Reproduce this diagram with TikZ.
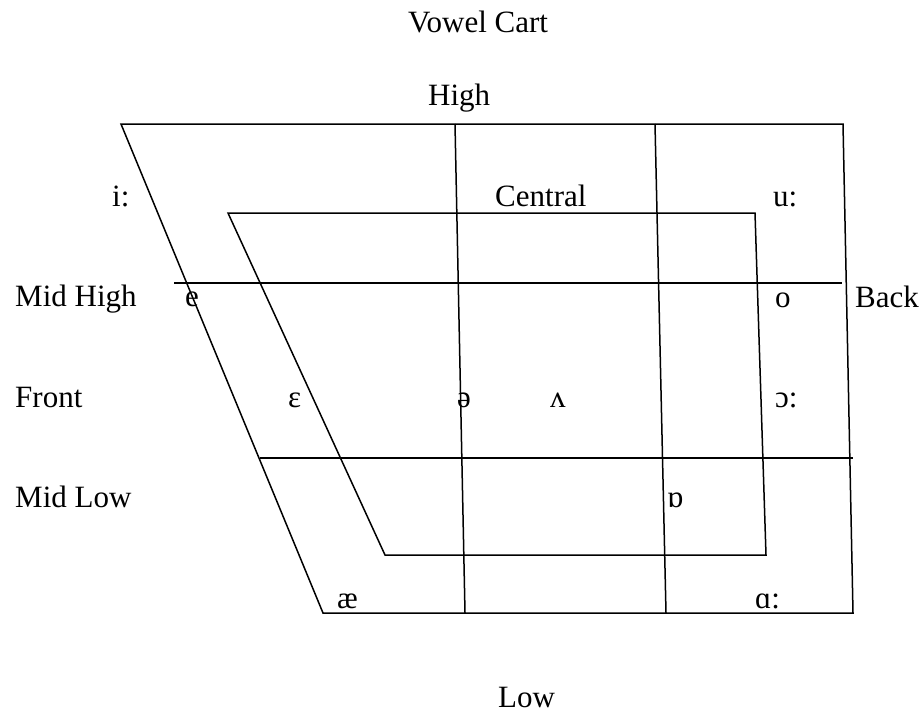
\documentclass[tikz,border=0pt]{standalone}
\usepackage{fontspec}
\setmainfont{Liberation Serif}
\begin{document}
\begin{tikzpicture}[x=1pt,y=-1pt,
  lbl/.style={anchor=base west,inner sep=0pt,font=\fontsize{31}{37}\selectfont},
  edge/.style={line width=1.5pt,line join=miter}]
\useasboundingbox (0,0) rectangle (923,712);
% outer chart
\coordinate (o1) at (121,124);
\coordinate (o2) at (843,124);
\coordinate (o3) at (853,613);
\coordinate (o4) at (323,613);
% inner chart
\coordinate (i1) at (228,213);
\coordinate (i2) at (755,213);
\coordinate (i3) at (766,555);
\coordinate (i4) at (385,555);
% horizontal lines
\coordinate (mh1) at (174,283);
\coordinate (mh2) at (842,283);
\coordinate (ml1) at (260,458);
\coordinate (ml2) at (853,458);
% vertical lines
\coordinate (v1t) at (455,124);
\coordinate (v1b) at (465,613);
\coordinate (v2t) at (655,124);
\coordinate (v2b) at (666,613);

\draw[edge] (o1) -- (o2) -- (o3) -- (o4) -- cycle;
\draw[edge] (i1) -- (i2) -- (i3) -- (i4) -- cycle;
\draw[edge] (mh1) -- (mh2);
\draw[edge] (ml1) -- (ml2);
\draw[edge] (v1t) -- (v1b);
\draw[edge] (v2t) -- (v2b);

\node[lbl] (title) at (408,32) {Vowel Cart};
\node[lbl] (high) at (428,105) {High};
\node[lbl] (ilong) at (112,206) {i:};
\node[lbl] (central) at (495,206) {Central};
\node[lbl] (ulong) at (773,206) {u:};
\node[lbl] (midhigh) at (15,306) {Mid High};
\node[lbl] (e) at (185,306) {e};
\node[lbl] (o) at (775,307) {o};
\node[lbl] (back) at (855,307) {Back};
\node[lbl] (front) at (15,407) {Front};
\node[lbl] (eps) at (288,407) {ɛ};
\node[lbl] (schwa) at (457,407) {ə};
\node[lbl] (wedge) at (550,407) {ʌ};
\node[lbl] (openo) at (775,407) {ɔ:};
\node[lbl] (midlow) at (15,507) {Mid Low};
\node[lbl] (turnedA) at (667,507) {ɒ};
\node[lbl] (ae) at (337,608) {æ};
\node[lbl] (alpha) at (755,608) {ɑ:};
\node[lbl] (low) at (498,707) {Low};
\end{tikzpicture}
\end{document}
